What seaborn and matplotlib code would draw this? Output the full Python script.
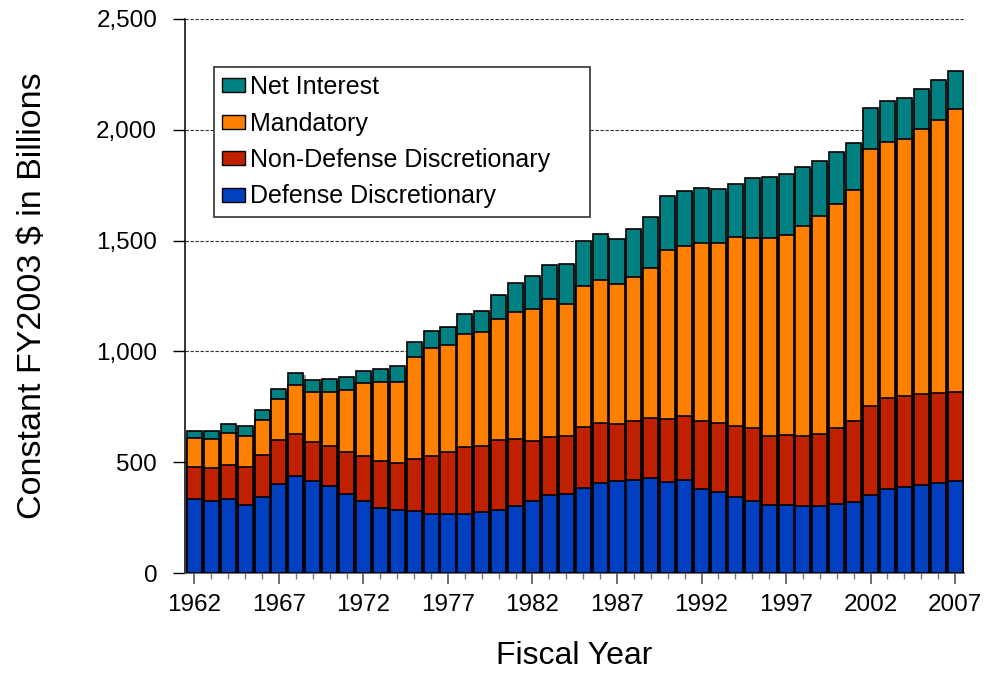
import matplotlib
matplotlib.use("Agg")
import matplotlib.pyplot as plt
import matplotlib.patheffects as pe
from matplotlib.patches import Patch
from matplotlib.ticker import FixedLocator, FuncFormatter
import numpy as np
import pandas as pd
import seaborn as sns

years = list(range(1962, 2008))

defense = [332, 326, 332, 308, 341, 403, 439, 417, 391, 356,
           326, 293, 284, 280, 266, 266, 266, 275, 284, 302,
           326, 353, 356, 382, 408, 417, 421, 429, 411, 420,
           381, 364, 343, 326, 307, 307, 301, 301, 311, 320,
           353, 379, 388, 398, 406, 413]
non_defense = [145, 149, 157, 169, 191, 199, 190, 176, 182, 190,
               200, 211, 214, 236, 263, 281, 304, 300, 318, 303,
               268, 261, 264, 275, 269, 254, 265, 271, 285, 288,
               307, 313, 322, 327, 311, 314, 317, 328, 342, 366,
               402, 411, 412, 408, 408, 404]
mandatory = [130, 130, 143, 143, 160, 182, 219, 224, 245, 280,
             330, 356, 364, 459, 485, 483, 510, 511, 544, 573,
             599, 624, 595, 640, 645, 635, 648, 675, 763, 769,
             803, 811, 851, 857, 895, 904, 948, 980, 1011, 1042,
             1160, 1156, 1160, 1196, 1232, 1277]
net_interest = [36, 37, 42, 42, 44, 46, 53, 52, 59, 59,
                54, 61, 72, 69, 76, 80, 87, 98, 109, 129,
                147, 152, 181, 202, 207, 202, 218, 233, 243, 247,
                246, 243, 241, 271, 276, 276, 266, 250, 237, 214,
                183, 184, 184, 182, 179, 171]

labels = ["Net Interest", "Mandatory", "Non-Defense Discretionary", "Defense Discretionary"]
colors = ["#008080", "#FF8000", "#BF2000", "#0040C0"]

df = pd.DataFrame({"year": [str(y) for y in years],
                   "Defense Discretionary": defense,
                   "Non-Defense Discretionary": non_defense,
                   "Mandatory": mandatory,
                   "Net Interest": net_interest})

# cumulative tops, drawn from the top layer down so lower layers overlay
stack_order = ["Defense Discretionary", "Non-Defense Discretionary", "Mandatory", "Net Interest"]
cum = df[stack_order].cumsum(axis=1)

sns.set_style("white")
plt.rcParams["font.family"] = ["Liberation Sans", "DejaVu Sans"]
plt.rcParams["text.color"] = "black"
plt.rcParams["axes.labelcolor"] = "black"
plt.rcParams["xtick.color"] = "black"
plt.rcParams["ytick.color"] = "black"

fig = plt.figure(figsize=(9.85, 6.77), dpi=100)
ax = fig.add_axes([185 / 985, 1 - 573 / 677, 779 / 985, 554 / 677])

for i, name in enumerate(reversed(stack_order)):
    color = colors[labels.index(name)]
    n_before = len(ax.patches)
    sns.barplot(x=df["year"], y=cum[name], color=color, saturation=1,
                width=0.89, edgecolor="black", linewidth=1.2, ax=ax, zorder=3)
    if i == 0:
        for p in ax.patches[n_before:]:
            p.set_path_effects([pe.SimplePatchShadow(offset=(1.8, -1.2), shadow_rgbFace="#9a9a9a", alpha=1),
                                pe.Normal()])

ax.set_xlim(-0.56, 45.53)
ax.set_ylim(0, 2500)

# grid
for v in range(500, 2501, 500):
    ax.axhline(v, color="#333333", lw=0.8, ls=(0, (3, 1.5)), zorder=1)

ax.yaxis.set_major_locator(FixedLocator(range(0, 2501, 500)))
ax.yaxis.set_major_formatter(FuncFormatter(lambda v, p: f"{int(v):,}"))
ax.tick_params(axis="y", which="major", direction="out", length=9, width=1,
               color="black", labelcolor="black", pad=11, labelsize=17.5, left=True)

ax.xaxis.set_major_locator(FixedLocator(range(0, 46, 5)))
ax.xaxis.set_minor_locator(FixedLocator([i for i in range(46) if i % 5]))
ax.set_xticklabels([str(years[i]) for i in range(0, 46, 5)])
ax.tick_params(axis="x", which="major", direction="out", length=8, width=1.2,
               color="#555555", labelcolor="black", pad=7, labelsize=17.5, bottom=True)
ax.tick_params(axis="x", which="minor", direction="out", length=4, width=1,
               color="#777777", bottom=True)

for s in ["top", "right"]:
    ax.spines[s].set_visible(False)
ax.spines["left"].set_color("black")
ax.spines["left"].set_linewidth(1.1)
ax.spines["bottom"].set_color("#555555")
ax.spines["bottom"].set_linewidth(1.2)

ax.set_xlabel("Fiscal Year", fontsize=23, color="black")
ax.set_ylabel("Constant FY2003 $ in Billions", fontsize=24.5, color="black")
ax.xaxis.set_label_coords(0.5, -0.122)
ax.yaxis.set_label_coords(-0.176, 0.5)

handles = [Patch(facecolor=c, edgecolor="black", linewidth=1) for c in colors]
leg = ax.legend(handles, labels, loc="upper left", mode="expand",
                bbox_to_anchor=(29 / 779, (573 - 67) / 554 - 0.27, 376 / 779, 0.27),
                fontsize=18, frameon=True, fancybox=False, framealpha=1,
                edgecolor="#333333", borderpad=0.32, labelspacing=0.5,
                handlelength=0.92, handleheight=0.48, handletextpad=0.18,
                borderaxespad=0)
leg.get_frame().set_linewidth(1.2)
leg.set_zorder(5)
for t in leg.get_texts():
    t.set_color("black")

fig.savefig("out.png", dpi=100)
